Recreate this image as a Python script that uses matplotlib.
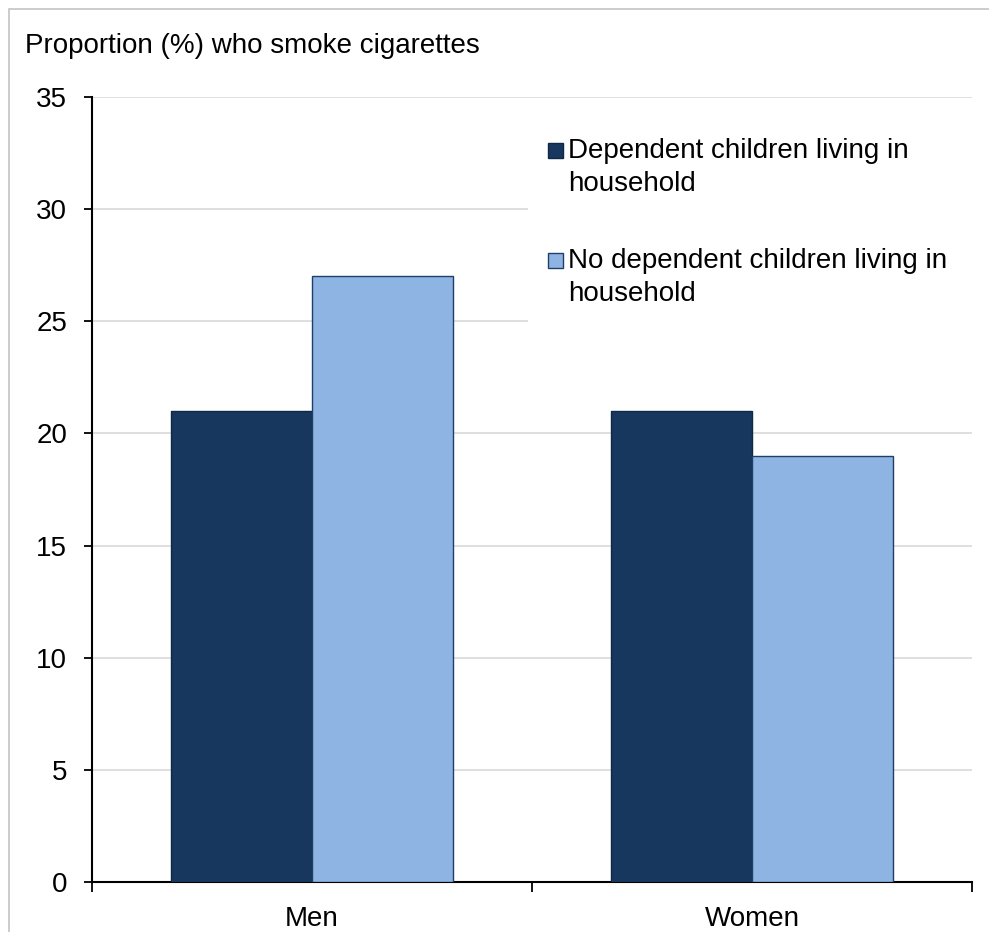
import matplotlib.pyplot as plt
from matplotlib.patches import Rectangle
import numpy as np

plt.rcParams['font.family'] = ['Liberation Sans', 'DejaVu Sans']

categories = ['Men', 'Women']
series_names = ['Dependent children living in\nhousehold',
                'No dependent children living in\nhousehold']
series_colors = ['#17375e', '#8eb4e3']
edge_colors = ['#0f2846', '#1f3f66']
with_children = [21, 21]
without_children = [27, 19]
yticks = [0, 5, 10, 15, 20, 25, 30, 35]

W, H = 989, 932
fs = 20
fig = plt.figure(figsize=(W / 100, H / 100), dpi=100)
ax = fig.add_axes([92 / W, (H - 882) / H, (972 - 92) / W, (882 - 97) / H])

# outer light frame (chart area border)
fig.patches.append(Rectangle((9 / W, -0.1), 1.2, (H - 9) / H + 0.1,
                             transform=fig.transFigure, fill=False,
                             edgecolor='#c4c4c4', linewidth=1.2))

x = np.arange(len(categories))
w = 0.32
ax.bar(x - w / 2, with_children, w, color=series_colors[0],
       edgecolor=edge_colors[0], linewidth=1, zorder=3)
ax.bar(x + w / 2, without_children, w, color=series_colors[1],
       edgecolor=edge_colors[1], linewidth=1, zorder=3)

ax.set_xlim(-0.5, 1.5)
ax.set_ylim(0, 35)
ax.set_yticks(yticks)
ax.yaxis.grid(True, color='#d9d9d9', linewidth=1.2, zorder=0)
ax.set_axisbelow(True)

ax.set_xticks(x)
ax.set_xticklabels(categories)
ax.set_xticks([-0.5, 0.5, 1.5], minor=True)
ax.tick_params(axis='x', which='major', length=0, labelsize=fs, pad=17)
ax.tick_params(axis='x', which='minor', length=7, width=1.3, direction='out')
ax.tick_params(axis='y', length=6, width=1.3, direction='out', labelsize=fs, pad=12)

for s in ['top', 'right']:
    ax.spines[s].set_visible(False)
for s in ['left', 'bottom']:
    ax.spines[s].set_linewidth(1.5)

fig.text(25 / W, 1 - 46 / H, 'Proportion (%) who smoke cigarettes',
         fontsize=fs, va='center', ha='left')

# legend drawn by hand: white box hides the gridlines, square sits on first line
fig.patches.append(Rectangle((528 / W, 1 - 330 / H), (972 - 528) / W, 200 / H,
                             transform=fig.transFigure, facecolor='white',
                             edgecolor='none', zorder=2))
leg_top = [138, 248]
for name, fc, ec, top in zip(series_names, series_colors, edge_colors, leg_top):
    fig.patches.append(Rectangle((548 / W, 1 - (top + 20) / H), 15 / W, 15 / H,
                                 transform=fig.transFigure, facecolor=fc,
                                 edgecolor=ec, linewidth=1, zorder=3))
    fig.text(568 / W, 1 - top / H, name, fontsize=fs, va='top', ha='left',
             linespacing=1.35, zorder=4)

fig.savefig('out.png', dpi=100)
